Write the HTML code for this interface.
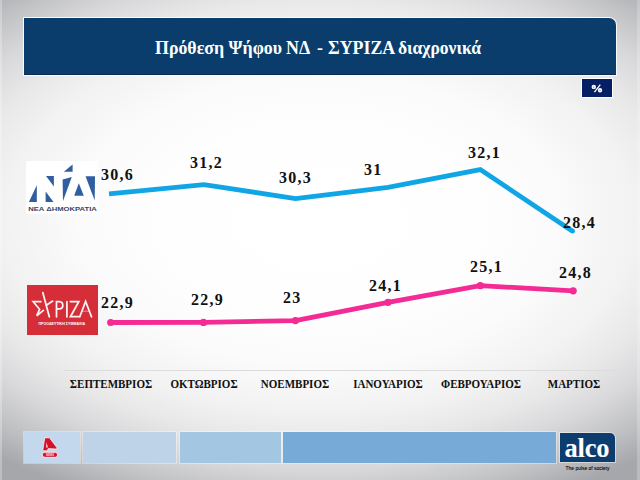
<!DOCTYPE html>
<html><head><meta charset="utf-8">
<style>
html,body{margin:0;padding:0;}
body{width:640px;height:480px;overflow:hidden;position:relative;
 background: radial-gradient(316px 192px at 320px 220px, rgb(255,255,255) 0%, rgb(254,254,254) 50%, rgb(251,251,251) 75%, rgb(242,242,242) 100%, rgb(232,232,233) 115%, rgb(216,216,218) 130%, rgb(193,194,196) 145%, rgb(166,167,171) 160%, rgb(166,167,171) 175%);
 font-family:"Liberation Serif", serif;}
.abs{position:absolute;}
#title{left:24px;top:18px;width:592px;height:57px;background:#0a3d6c;border-top-right-radius:7px;
 box-shadow:0 0 0 1px rgba(255,255,255,0.85), inset 0 -1px 0 #072b52;}
.ttl{position:absolute;top:36.5px;color:#fff;font-weight:bold;font-size:19.5px;white-space:nowrap;transform:scaleX(0.915);transform-origin:0 0;}
#pct{left:582px;top:79px;width:30px;height:18px;background:#061f64;box-shadow:0 0 0 1px #fff;}
.lbl{position:absolute;font-weight:bold;font-size:17px;color:#111;white-space:nowrap;letter-spacing:1.35px;transform:scaleX(0.94);transform-origin:0 0;}
.mon{position:absolute;font-weight:bold;font-size:11.5px;color:#111;white-space:nowrap;top:377.5px;transform:translateX(-50%) scaleX(0.957);}
.box{position:absolute;top:432px;height:31px;box-shadow:0 0 0 1px rgba(255,255,255,0.35);}
</style></head><body>
<div id="title" class="abs"></div>
<div class="ttl" style="left:155px;">Πρόθεση Ψήφου</div>
<div class="ttl" style="left:286.2px;">ΝΔ</div>
<div class="ttl" style="left:317px;">-</div>
<div class="ttl" style="left:328px;">ΣΥΡΙΖΑ</div>
<div class="ttl" style="left:398px;transform:scaleX(0.9);">διαχρονικά</div>
<div id="pct" class="abs"></div>
<svg class="abs" style="left:582px;top:79px" width="30" height="18" viewBox="0 0 30 18">
 <g fill="none" stroke="#fff" stroke-width="1.7"><circle cx="11.8" cy="7.9" r="1.35"/><circle cx="18" cy="11.3" r="1.35"/></g>
 <path d="M18.3,5.6 L12.4,13.2" stroke="#fff" stroke-width="1.3"/>
</svg>

<!-- ND logo -->
<div class="abs" style="left:26px;top:161px;width:72px;height:53px;background:#fff;"></div>
<svg class="abs" style="left:0;top:0" width="110" height="220" viewBox="0 0 110 220">
 <g fill="#305ea0">
  <polygon points="36.8,185.2 36.8,201.9 28.9,201.9"/>
  <polygon points="46,176 53.9,176 53.9,186.5"/>
  <polygon points="45.6,191.5 45.6,201.9 53.5,201.9"/>
  <polygon points="72.6,164.6 72.6,171.7 63.8,171.7"/>
  <polygon points="62.6,179.4 71.8,177 63,201"/>
  <polygon points="78.8,183.3 83.8,195.8 74.2,195.8"/>
  <polygon points="85.5,176.2 95,176.2 94.7,200.5"/>
 </g>
 <text x="28.2" y="211.3" font-family="Liberation Sans" font-size="6.2" font-weight="bold" fill="#3a4663" textLength="68.6" lengthAdjust="spacingAndGlyphs">ΝΕΑ ΔΗΜΟΚΡΑΤΙΑ</text>
</svg>

<!-- SYRIZA logo -->
<div class="abs" style="left:27px;top:285px;width:71px;height:50px;background:#d62e38;"></div>
<svg class="abs" style="left:0;top:0" width="110" height="340" viewBox="0 0 110 340">
 <g fill="none" stroke="#fdf3f3" stroke-width="1.75" stroke-linecap="round" stroke-linejoin="miter">
  <path d="M40.8,301.7 L33.2,301.7 L39.6,309.3 L36.7,315.7 L43.4,310.4"/>
  <path d="M42.8,292.6 L49.3,316.8"/>
  <path d="M46.3,305.2 L52.7,301.1"/>
  <path d="M56.5,316.8 L56.5,301.6 L59.5,301.6 Q62.8,301.8 62.8,305.3 Q62.8,308.8 59.5,308.9 L56.5,308.9"/>
  <path d="M66.9,301.5 L66.9,316.8"/>
  <path d="M70.4,301.6 L78.8,301.6 L70.4,316.7 L79,316.7"/>
  <path d="M79.8,316.8 L85.6,301.4 L91.5,316.8"/>
  <path d="M82.4,311.2 L88.8,311.2" stroke-width="0.9" stroke-opacity="0.55"/>
 </g>
 <text x="38.5" y="324.8" font-family="Liberation Sans" font-size="3.6" font-weight="bold" fill="#fff" textLength="46.5" lengthAdjust="spacingAndGlyphs">ΠΡΟΟΔΕΥΤΙΚΗ ΣΥΜΜΑΧΙΑ</text>
</svg>

<!-- chart -->
<svg class="abs" style="left:0;top:0" width="640" height="480">
 <line x1="64" y1="370.5" x2="616" y2="370.5" stroke="#dcdcdc" stroke-width="1"/>
 <polyline fill="none" stroke="#10a6e6" stroke-width="4.8" stroke-linejoin="miter" stroke-linecap="butt" points="109,193.8 204,184.6 295.6,198.6 388,187.4 480.3,169.6 572.6,231.2"/>
 <circle cx="572.6" cy="231.2" r="2.4" fill="#10a6e6"/>
 <polyline fill="none" stroke="#f42a95" stroke-width="4.8" stroke-linejoin="round" points="110.7,322.5 203.5,322.4 295.4,320.6 388,302.3 480.3,285.7 573.2,290.8"/>
 <g fill="#f42a95">
  <circle cx="110.7" cy="322.5" r="3.6"/><circle cx="203.5" cy="322.4" r="3.6"/><circle cx="295.4" cy="320.6" r="3.6"/>
  <circle cx="388" cy="302.3" r="3.6"/><circle cx="480.3" cy="285.7" r="3.6"/><circle cx="573.2" cy="290.8" r="3.6"/>
 </g>
</svg>

<div class="lbl" style="left:101.0px;top:165.0px;">30,6</div>
<div class="lbl" style="left:190.0px;top:153.0px;">31,2</div>
<div class="lbl" style="left:279.0px;top:168.0px;">30,3</div>
<div class="lbl" style="left:364.3px;top:160.0px;">31</div>
<div class="lbl" style="left:468.4px;top:143.0px;">32,1</div>
<div class="lbl" style="left:563.0px;top:213.0px;">28,4</div>
<div class="lbl" style="left:101.0px;top:292.7px;">22,9</div>
<div class="lbl" style="left:191.0px;top:290.0px;">22,9</div>
<div class="lbl" style="left:283.4px;top:288.0px;">23</div>
<div class="lbl" style="left:369.0px;top:275.7px;">24,1</div>
<div class="lbl" style="left:470.2px;top:257.0px;">25,1</div>
<div class="lbl" style="left:559.0px;top:263.3px;">24,8</div>

<div class="mon" style="left:111px;">ΣΕΠΤΕΜΒΡΙΟΣ</div>
<div class="mon" style="left:204px;">ΟΚΤΩΒΡΙΟΣ</div>
<div class="mon" style="left:295px;">ΝΟΕΜΒΡΙΟΣ</div>
<div class="mon" style="left:388px;">ΙΑΝΟΥΑΡΙΟΣ</div>
<div class="mon" style="left:481px;">ΦΕΒΡΟΥΑΡΙΟΣ</div>
<div class="mon" style="left:574px;">ΜΑΡΤΙΟΣ</div>

<!-- bottom bar -->
<div class="box" style="left:24px;width:56px;background:#c3d8ec;"></div>
<div class="box" style="left:83px;width:93px;background:#bed3e8;"></div>
<div class="box" style="left:180px;width:101px;background:#a3c6e2;"></div>
<div class="box" style="left:283px;width:273px;background:#78aad7;"></div>
<div class="abs" style="left:560px;top:433px;width:55px;height:29px;background:#0d3c6e;border-top-right-radius:5px;box-shadow:0 0 0 1px rgba(255,255,255,0.45);"></div>
<div class="abs" style="left:564.5px;top:433px;color:#fff;font-size:26.5px;font-weight:bold;letter-spacing:-0.2px;line-height:30px;">alco</div>
<svg class="abs" style="left:0;top:0" width="640" height="480">
 <text x="565.6" y="470" font-family="Liberation Sans" font-size="6" fill="#000" stroke="#000" stroke-width="0.1" textLength="43.8" lengthAdjust="spacingAndGlyphs">The pulse of society</text>
</svg>

<div class="abs" style="left:0;top:0;width:2px;height:480px;background:rgba(255,255,255,0.28);"></div>
<div class="abs" style="left:637px;top:0;width:3px;height:480px;background:rgba(255,255,255,0.22);"></div>
<!-- Alpha logo -->
<svg class="abs" style="left:0;top:0" width="640" height="480">
 <polygon points="42.75,450.75 44.75,437.9 49.4,437.75 57.1,447.9 56.3,449 48.2,448.6 47.1,450.75" fill="#d5102a" stroke="#fff" stroke-opacity="0.8" stroke-width="0.8" stroke-linejoin="round"/>
 <polygon points="46.6,442.3 47.9,447.5 46.1,447.5" fill="#f4e6e0"/>
 <rect x="42.3" y="452.3" width="15.3" height="5" rx="2.5" fill="#d5102a" stroke="#fff" stroke-width="0.8"/>
 <text x="50" y="456.1" font-family="Liberation Sans" font-weight="bold" font-size="3.2" fill="#fbe0e4" text-anchor="middle" textLength="8" lengthAdjust="spacingAndGlyphs">NEWS</text>
</svg>
</body></html>
